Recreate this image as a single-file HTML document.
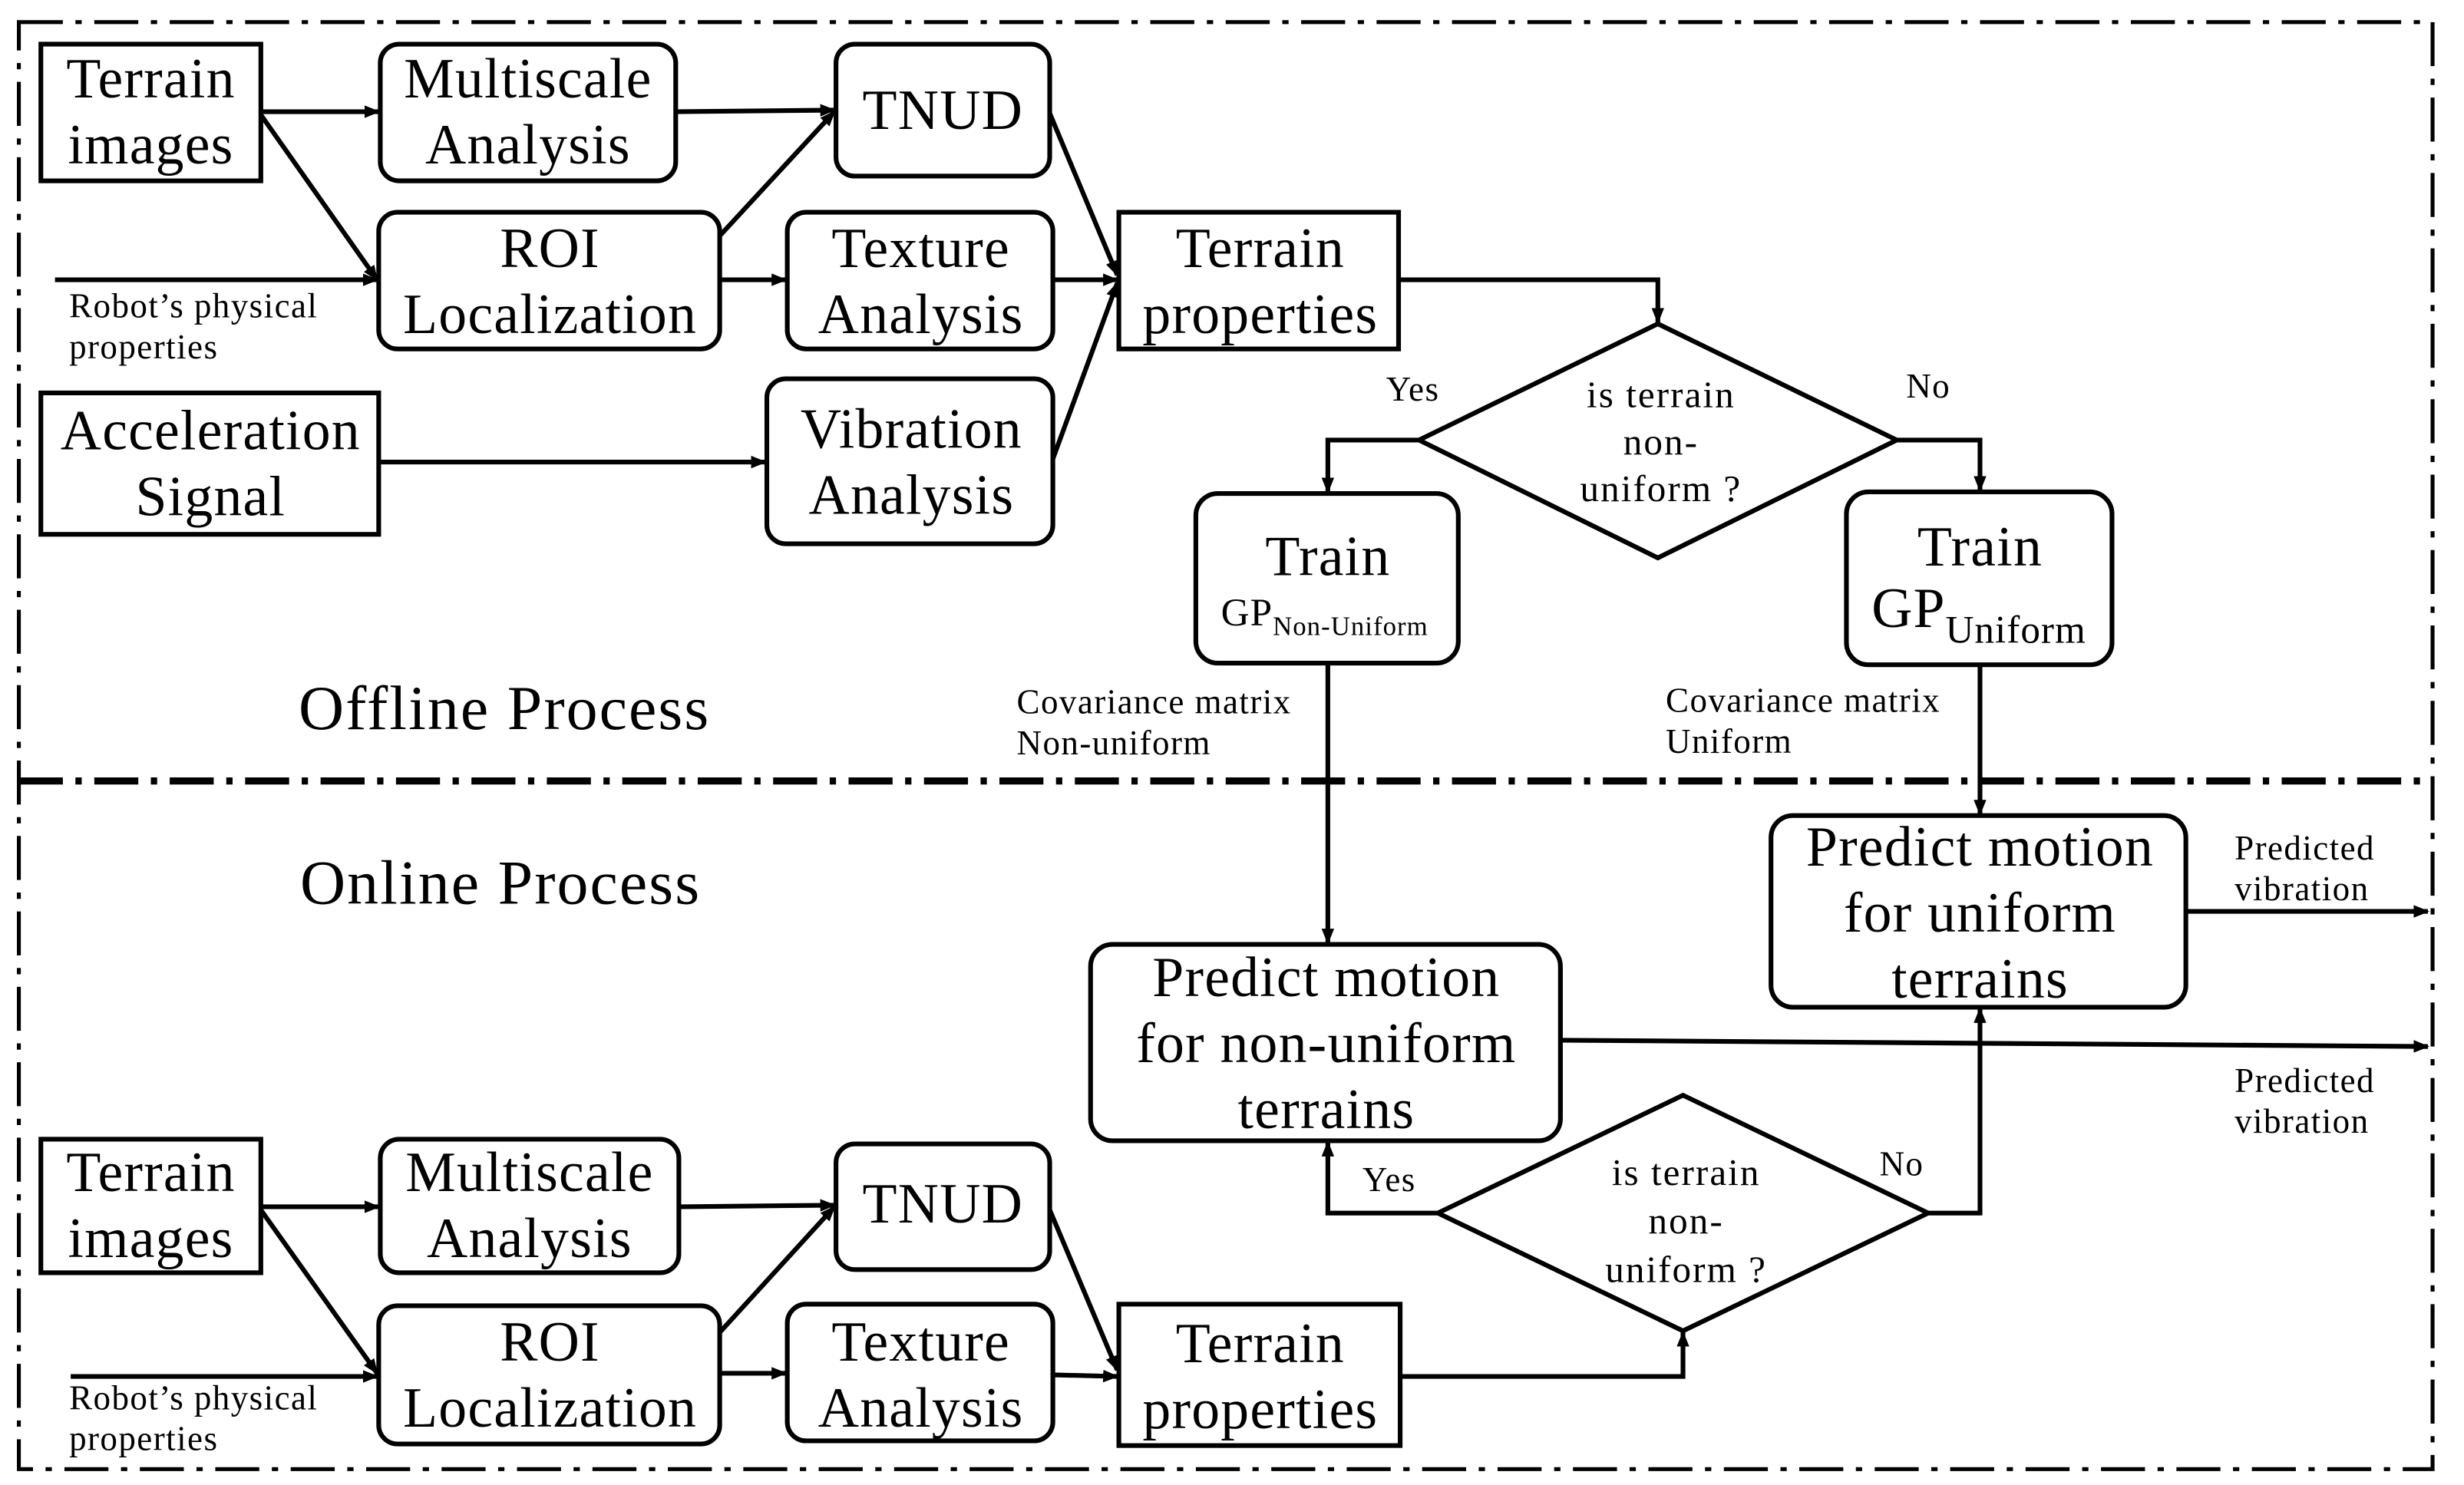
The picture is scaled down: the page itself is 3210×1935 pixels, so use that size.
<!DOCTYPE html>
<html><head><meta charset="utf-8"><style>
html,body{margin:0;padding:0;background:#fff;}
svg{display:block;}
text{font-family:"Liberation Serif",serif;fill:#000;}
.b{font-size:36px;letter-spacing:0.6px;text-anchor:middle;}
.s{font-size:22px;letter-spacing:0.7px;}
.m{font-size:24px;letter-spacing:1px;text-anchor:middle;}
</style></head><body>
<svg width="3210" height="1935" viewBox="0 0 1568 945" xmlns="http://www.w3.org/2000/svg">
<defs><marker id="a" markerWidth="10" markerHeight="10" refX="9" refY="5" orient="auto" markerUnits="userSpaceOnUse"><path d="M0,1 L10,5 L0,9 z" fill="#000"/></marker></defs>
<g fill="none" stroke="#000" stroke-width="2.5" stroke-dasharray="28,8,4,8">
<rect x="12" y="14" width="1536" height="921"/>
</g>
<line x1="12" y1="497" x2="1548" y2="497" stroke="#000" stroke-width="4.5" stroke-dasharray="28,8,4,8"/>
<g fill="#fff" stroke="#000" stroke-width="3">
<rect x="26" y="28" width="140" height="87"/>
<rect x="242" y="28" width="188" height="87" rx="12"/>
<rect x="532" y="28" width="136" height="84" rx="12"/>
<rect x="241" y="135" width="217" height="87" rx="12"/>
<rect x="501" y="135" width="169" height="87" rx="12"/>
<rect x="712" y="135" width="178" height="87"/>
<rect x="26" y="250" width="215" height="90"/>
<rect x="488" y="241" width="182" height="105" rx="12"/>
<polygon points="903,280 1055,206 1207,280 1055,355"/>
<rect x="761" y="314" width="167" height="108" rx="14"/>
<rect x="1175" y="313" width="169" height="110" rx="14"/>
<rect x="1127" y="519" width="264" height="122" rx="14"/>
<rect x="694" y="601" width="299" height="125" rx="14"/>
<polygon points="915,772 1071,697 1227,772 1071,847"/>
<rect x="26" y="725" width="140" height="85"/>
<rect x="242" y="725" width="190" height="85" rx="12"/>
<rect x="532" y="728" width="136" height="80" rx="12"/>
<rect x="241" y="831" width="217" height="88" rx="12"/>
<rect x="501" y="830" width="169" height="87" rx="12"/>
<rect x="712" y="830" width="179" height="90"/>
</g>
<g fill="none" stroke="#000" stroke-width="3" marker-end="url(#a)">
<path d="M166,71 L241,71"/>
<path d="M166,73 L240,178"/>
<path d="M35,178 L240,178"/>
<path d="M430,71 L531,70"/>
<path d="M458,150 L531,71"/>
<path d="M458,178 L500,178"/>
<path d="M668,72 L711,175"/>
<path d="M670,178 L711,178"/>
<path d="M670,292 L711,180"/>
<path d="M241,294 L487,294"/>
<path d="M890,178 L1055,178 L1055,205"/>
<path d="M903,280 L845,280 L845,313"/>
<path d="M1207,280 L1260,280 L1260,312"/>
<path d="M845,422 L845,600"/>
<path d="M1260,423 L1260,518"/>
<path d="M1391,580 L1545,580"/>
<path d="M993,662 L1545,666"/>
<path d="M915,772 L845,772 L845,727"/>
<path d="M1227,772 L1260,772 L1260,642"/>
<path d="M891,876 L1071,876 L1071,848"/>
<path d="M166,768 L241,768"/>
<path d="M166,770 L240,874"/>
<path d="M45,876 L240,876"/>
<path d="M432,768 L531,767"/>
<path d="M458,848 L531,768"/>
<path d="M458,874 L500,874"/>
<path d="M668,770 L711,872"/>
<path d="M670,875 L711,876"/>
</g>
<g class="b">
<text x="96" y="62">Terrain</text><text x="96" y="104">images</text>
<text x="336" y="62">Multiscale</text><text x="336" y="104">Analysis</text>
<text x="600" y="82">TNUD</text>
<text x="350" y="170">ROI</text><text x="350" y="212">Localization</text>
<text x="586" y="170">Texture</text><text x="586" y="212">Analysis</text>
<text x="802" y="170">Terrain</text><text x="802" y="212">properties</text>
<text x="134" y="286">Acceleration</text><text x="134" y="328">Signal</text>
<text x="580" y="285">Vibration</text><text x="580" y="327">Analysis</text>
<text x="845" y="366">Train</text>
<text x="1260" y="360">Train</text>
<text x="1260" y="551">Predict motion</text><text x="1260" y="593">for uniform</text><text x="1260" y="635">terrains</text>
<text x="844" y="634">Predict motion</text><text x="844" y="676">for non-uniform</text><text x="844" y="718">terrains</text>
<text x="96" y="758">Terrain</text><text x="96" y="800">images</text>
<text x="337" y="758">Multiscale</text><text x="337" y="800">Analysis</text>
<text x="600" y="778">TNUD</text>
<text x="350" y="866">ROI</text><text x="350" y="908">Localization</text>
<text x="586" y="866">Texture</text><text x="586" y="908">Analysis</text>
<text x="802" y="867">Terrain</text><text x="802" y="909">properties</text>
</g>
<text x="777" y="398" style="font-size:25px;letter-spacing:0.5px">GP<tspan font-size="17" dy="6">Non-Uniform</tspan></text>
<text x="1191" y="399" style="font-size:36px;letter-spacing:0.5px">GP<tspan font-size="25" dy="10">Uniform</tspan></text>
<g class="m">
<text x="1057" y="259">is terrain</text><text x="1057" y="289">non-</text><text x="1057" y="319">uniform ?</text>
<text x="1073" y="754">is terrain</text><text x="1073" y="785">non-</text><text x="1073" y="816">uniform ?</text>
</g>
<g class="s">
<text x="44" y="202">Robot’s physical</text><text x="44" y="228">properties</text>
<text x="44" y="897">Robot’s physical</text><text x="44" y="923">properties</text>
<text x="882" y="255">Yes</text><text x="1213" y="253">No</text>
<text x="867" y="758">Yes</text><text x="1196" y="748">No</text>
<text x="647" y="454">Covariance matrix</text><text x="647" y="480">Non-uniform</text>
<text x="1060" y="453">Covariance matrix</text><text x="1060" y="479">Uniform</text>
<text x="1422" y="547">Predicted</text><text x="1422" y="573">vibration</text>
<text x="1422" y="695">Predicted</text><text x="1422" y="721">vibration</text>
</g>
<text x="190" y="464" style="font-size:40px;letter-spacing:1px">Offline Process</text>
<text x="191" y="575" style="font-size:40px;letter-spacing:1px">Online Process</text>
</svg>
</body></html>
